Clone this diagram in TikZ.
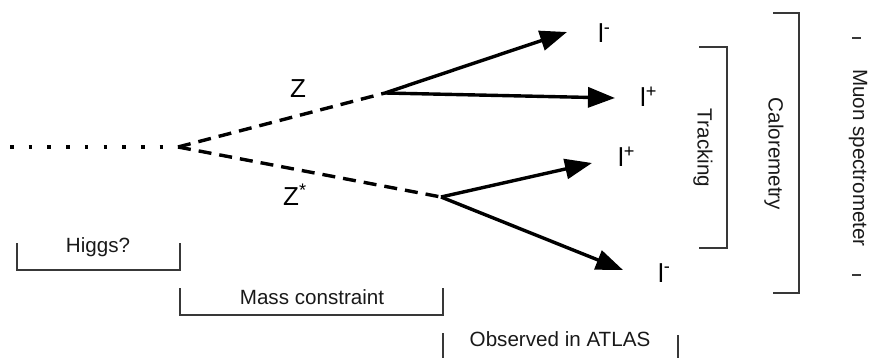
\documentclass[tikz,border=0pt]{standalone}
\usepackage{fontspec}
\setmainfont{Liberation Sans}
\usetikzlibrary{arrows.meta}
\begin{document}
\begin{tikzpicture}[x=1pt,y=-1pt,
  brk/.style={draw=black!78,line width=2pt},
  txt/.style={font=\fontsize{20.6}{24}\selectfont,inner sep=0pt,text=black!90},
  lab/.style={font=\fontsize{26}{30}\selectfont,inner sep=0pt,anchor=base west},
  arr/.style={line width=3.4pt,-{Triangle[length=27pt,width=20pt]}},
  dsh/.style={line width=3.4pt,dash pattern=on 13pt off 8pt},
  dot/.style={line width=3.6pt,dash pattern=on 3.6pt off 15.1pt}]
\useasboundingbox (0,0) rectangle (870,358);
% vertices and tips
\coordinate (S) at (10,147);
\coordinate (H) at (178,147);
\coordinate (Zv) at (385,93);
\coordinate (Zs) at (441,197);
\coordinate (t1) at (567,32);
\coordinate (t2) at (615,98);
\coordinate (t3) at (592,163);
\coordinate (t4) at (623,270);
% lines
\draw[dot] (S) -- (H);
\draw[dsh] (H) -- (Zv);
\draw[dsh] (H) -- (Zs);
\draw[arr] (Zv) -- (t1);
\draw[arr] (Zv) -- (t2);
\draw[arr] (Zs) -- (t3);
\draw[arr] (Zs) -- (t4);
% labels
\node[lab] (lZ) at (290,98) {Z};
\node[lab] (lZs) at (283,206) {Z\textsuperscript{*}};
\node[lab] (l1) at (598,43) {l\textsuperscript{-}};
\node[lab] (l2) at (640,107) {l\textsuperscript{+}};
\node[lab] (l3) at (618,167) {l\textsuperscript{+}};
\node[lab] (l4) at (658,282) {l\textsuperscript{-}};
% bottom brackets
\draw[brk] (17,243) -- (17,270) -- (180,270) -- (180,243);
\node[txt] (higgs) at (98,247) {Higgs?};
\draw[brk] (180,288) -- (180,315) -- (443,315) -- (443,288);
\node[txt] (mass) at (312,297) {Mass constraint};
\draw[brk] (443,333) -- (443,360);
\draw[brk] (678,335) -- (678,360);
\node[txt] (obs) at (560,339) {Observed in ATLAS};
% right brackets
\draw[brk] (699,47) -- (727,47) -- (727,248) -- (699,248);
\node[txt,rotate=-90] (trk) at (703,148) {Tracking};
\draw[brk] (773,13) -- (799,13) -- (799,293) -- (773,293);
\node[txt,rotate=-90] (cal) at (774,154) {Caloremetry};
\draw[brk,line width=2.6pt] (852,38) -- (861,38);
\draw[brk,line width=2.6pt] (852,275) -- (861,275);
\node[txt,rotate=-90] (muon) at (858,158) {Muon spectrometer};
\end{tikzpicture}
\end{document}
